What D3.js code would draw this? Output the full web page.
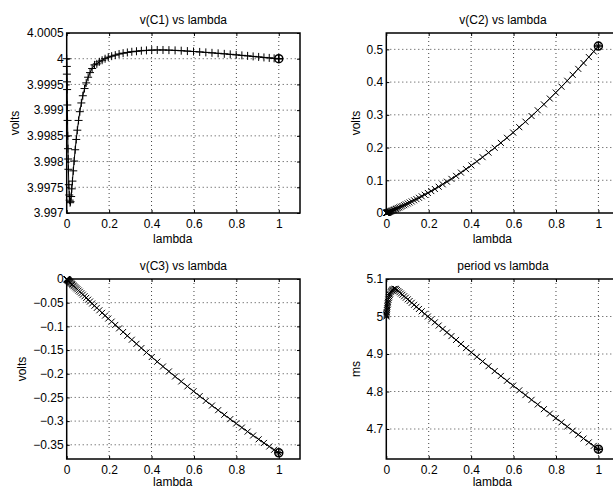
<!DOCTYPE html>
<html>
<head>
<meta charset="utf-8">
<script src="https://cdnjs.cloudflare.com/ajax/libs/d3/7.8.5/d3.min.js"></script>
<style>
body { margin: 0; background: #fff; }
svg { display: block; font-family: "Liberation Sans", Arial, sans-serif; }
</style>
</head>
<body>
<div id="fig"></div>
<script>
// continuation parameter (steps get finer near 0)
var lambda = [0, 0.0005, 0.001, 0.0015, 0.002, 0.003, 0.004, 0.005, 0.006, 0.007, 0.008, 0.010, 0.012, 0.014, 0.016, 0.018,
	0.021, 0.024, 0.027, 0.031, 0.035, 0.040, 0.045, 0.050, 0.056, 0.062, 0.069, 0.076, 0.084, 0.092, 0.101, 0.110,
	0.120, 0.131, 0.142, 0.154, 0.167, 0.181, 0.196, 0.212, 0.229, 0.247, 0.266, 0.286, 0.307, 0.329, 0.352, 0.376,
	0.401, 0.427, 0.454, 0.482, 0.511, 0.540, 0.569, 0.598, 0.627, 0.656, 0.685, 0.714, 0.743, 0.771, 0.799, 0.826,
	0.853, 0.879, 0.905, 0.930, 0.955, 0.978, 1.0];

var vC1 = [4.00000, 3.99985, 3.99970, 3.99955, 3.99940, 3.99910, 3.99880, 3.99850, 3.99825, 3.99805, 3.99785, 3.99755,
	3.99735, 3.99725, 3.99720, 3.99722, 3.99732, 3.99747, 3.99762, 3.99782, 3.99801, 3.99823, 3.99843, 3.99861,
	3.99880, 3.99897, 3.99914, 3.99928, 3.99942, 3.99953, 3.99964, 3.99973, 3.99981, 3.99988, 3.99990, 3.99994,
	3.99997, 4.00000, 4.00003, 4.00005, 4.00007, 4.000092, 4.000108, 4.000122, 4.000135, 4.000145, 4.000155, 4.000162,
	4.000167, 4.000170, 4.000170, 4.000167, 4.000162, 4.000156, 4.000148, 4.000140, 4.000132, 4.000123, 4.000114,
	4.000105, 4.000095, 4.000085, 4.000075, 4.000065, 4.000055, 4.000045, 4.000035, 4.000025, 4.000016, 4.000007, 4.00000];

var vC2 = [0, 0.00013, 0.00026, 0.0004, 0.00053, 0.0008, 0.00106, 0.00133, 0.00159, 0.00186, 0.00213, 0.00266,
	0.0032, 0.00374, 0.00429, 0.00483, 0.00565, 0.00648, 0.00731, 0.00842, 0.00954, 0.01095, 0.01238, 0.01382,
	0.01555, 0.0173, 0.01939, 0.02148, 0.02391, 0.02637, 0.02917, 0.03202, 0.03522, 0.03881, 0.04245, 0.04649,
	0.05095, 0.05584, 0.06119, 0.06702, 0.07336, 0.08022, 0.08763, 0.09563, 0.10423, 0.11348, 0.12341, 0.13404,
	0.14542, 0.15758, 0.17056, 0.1844, 0.19914, 0.21429, 0.22986, 0.24584, 0.26224, 0.27905, 0.29627, 0.3139,
	0.33196, 0.34978, 0.36798, 0.38591, 0.40418, 0.42212, 0.4404, 0.45829, 0.47648, 0.49348, 0.51];

var vC3 = [0, -0.00022, -0.00044, -0.00066, -0.00088, -0.00132, -0.00176, -0.0022, -0.00264, -0.00308, -0.00352, -0.0044,
	-0.00527, -0.00615, -0.00702, -0.0079, -0.00921, -0.01052, -0.01183, -0.01357, -0.01531, -0.01748, -0.01965, -0.02182,
	-0.02441, -0.027, -0.03001, -0.03302, -0.03645, -0.03986, -0.0437, -0.04752, -0.05175, -0.05639, -0.06101, -0.06603,
	-0.07144, -0.07725, -0.08344, -0.09, -0.09693, -0.10423, -0.11188, -0.11987, -0.1282, -0.13686, -0.14584, -0.15512,
	-0.1647, -0.17457, -0.18471, -0.19512, -0.20578, -0.21631, -0.22673, -0.23702, -0.24718, -0.25723, -0.26715, -0.27695,
	-0.28662, -0.29585, -0.30496, -0.31363, -0.3222, -0.33036, -0.33841, -0.34606, -0.35362, -0.3605, -0.367];

var period = [5.000, 5.003, 5.006, 5.009, 5.012, 5.017, 5.022, 5.027, 5.031, 5.035, 5.039, 5.045, 5.050, 5.054, 5.058,
	5.061, 5.065, 5.068, 5.070, 5.072, 5.073, 5.074, 5.0735, 5.0706, 5.0676, 5.0647, 5.0613, 5.0579, 5.054, 5.0501,
	5.0457, 5.0413, 5.0365, 5.0312, 5.0259, 5.0201, 5.0139, 5.0072, 5.0, 4.9924, 4.9844, 4.9759, 4.9669, 4.9575,
	4.9477, 4.9375, 4.9268, 4.9157, 4.9043, 4.8924, 4.8801, 4.8675, 4.8544, 4.8415, 4.8286, 4.8158, 4.8031, 4.7904,
	4.7778, 4.7653, 4.7529, 4.741, 4.7291, 4.7178, 4.7065, 4.6956, 4.6849, 4.6746, 4.6644, 4.655, 4.6461];

var xTicks = [0, 0.2, 0.4, 0.6, 0.8, 1];
var c1Ticks = [3.997, 3.9975, 3.998, 3.9985, 3.999, 3.9995, 4, 4.0005];
var c2Ticks = [0, 0.1, 0.2, 0.3, 0.4, 0.5];
var c3Ticks = [0, -0.05, -0.1, -0.15, -0.2, -0.25, -0.3, -0.35];
var periodTicks = [4.7, 4.8, 4.9, 5, 5.1];

var W = 613, H = 490;
var svg = d3.select("#fig").append("svg").attr("width", W).attr("height", H);
var FS = 12;

function fmt(v) {
	var s = String(+v.toFixed(5));
	return s.replace("-", "\u2212");
}

function drawPanel(p) {
	var g = svg.append("g");
	var x = d3.scaleLinear().domain([0, 1.1]).range([p.left, p.left + 233.3]);
	var y = d3.scaleLinear().domain(p.yDomain).range([p.bottom, p.top]);

	// dotted grid
	xTicks.forEach(function(t) {
		if (t === 0) return;
		g.append("line").attr("x1", x(t)).attr("x2", x(t)).attr("y1", p.top).attr("y2", p.bottom)
			.attr("stroke", "#444").attr("stroke-width", 1).attr("stroke-dasharray", "1,3");
	});
	p.yTicks.forEach(function(t) {
		var yy = y(t);
		if (Math.abs(yy - p.top) < 1 || Math.abs(yy - p.bottom) < 1) return;
		g.append("line").attr("x1", p.left).attr("x2", x(1.1)).attr("y1", yy).attr("y2", yy)
			.attr("stroke", "#444").attr("stroke-width", 1).attr("stroke-dasharray", "1,3");
	});

	var xAxis = g.append("g").attr("transform", "translate(0," + p.bottom + ")")
		.call(d3.axisBottom(x).tickValues(xTicks).tickFormat(fmt).tickSize(-3).tickPadding(6));
	var xAxisTop = g.append("g").attr("transform", "translate(0," + p.top + ")")
		.call(d3.axisTop(x).tickValues(xTicks).tickFormat("").tickSize(-3));
	var yAxis = g.append("g").attr("transform", "translate(" + p.left + ",0)")
		.call(d3.axisLeft(y).tickValues(p.yTicks).tickFormat(fmt).tickSize(-3).tickPadding(3));
	var yAxisR = g.append("g").attr("transform", "translate(" + x(1.1) + ",0)")
		.call(d3.axisRight(y).tickValues(p.yTicks).tickFormat("").tickSize(-3));
	[xAxis, xAxisTop, yAxis, yAxisR].forEach(function(a) {
		a.select(".domain").remove();
		a.selectAll("text").attr("font-size", FS).attr("fill", "#000").style("font-family", "Liberation Sans, Arial, sans-serif");
		a.selectAll("line").attr("stroke", "#000");
	});

	g.append("rect").attr("x", p.left).attr("y", p.top)
		.attr("width", x(1.1) - p.left).attr("height", p.bottom - p.top)
		.attr("fill", "none").attr("stroke", "#000").attr("stroke-width", 1.5);

	// curve
	var pts = lambda.map(function(l, i) { return [x(l), y(p.values[i])]; });
	g.append("path").attr("d", d3.line()(pts)).attr("fill", "none").attr("stroke", "#000").attr("stroke-width", 1);

	var m = g.append("g").attr("stroke", "#000").attr("stroke-width", 1).attr("fill", "none");
	pts.forEach(function(pt) {
		var a = p.marker === "+" ? 4 : 3;
		if (p.marker === "+") {
			m.append("path").attr("d", "M" + (pt[0] - a) + "," + pt[1] + "H" + (pt[0] + a) + "M" + pt[0] + "," + (pt[1] - a) + "V" + (pt[1] + a));
		} else {
			m.append("path").attr("d", "M" + (pt[0] - a) + "," + (pt[1] - a) + "L" + (pt[0] + a) + "," + (pt[1] + a) +
				"M" + (pt[0] - a) + "," + (pt[1] + a) + "L" + (pt[0] + a) + "," + (pt[1] - a));
		}
	});
	// end point marker
	var e = pts[pts.length - 1];
	m.append("circle").attr("cx", e[0]).attr("cy", e[1]).attr("r", 4).attr("stroke-width", 1.5);
	m.append("path").attr("d", "M" + (e[0] - 4) + "," + e[1] + "H" + (e[0] + 4) + "M" + e[0] + "," + (e[1] - 4) + "V" + (e[1] + 4))
		.attr("stroke-width", 1.5);

	// labels
	g.append("text").attr("x", (p.left + x(1.1)) / 2).attr("y", p.top - 9).attr("text-anchor", "middle")
		.attr("font-size", FS).text(p.title);
	g.append("text").attr("x", x(0.5)).attr("y", p.bottom + p.xlabOff).attr("text-anchor", "middle")
		.attr("font-size", FS).text("lambda");
	g.append("text").attr("transform", "translate(" + p.ylabX + "," + ((p.top + p.bottom) / 2) + ") rotate(-90)")
		.attr("text-anchor", "middle").attr("font-size", FS).text(p.ylabel);
}

drawPanel({ left: 66.7, top: 33, bottom: 213, yDomain: [3.997, 4.0005], yTicks: c1Ticks, values: vC1,
	marker: "+", title: "v(C1) vs lambda", ylabel: "volts", ylabX: 19, xlabOff: 30 });
drawPanel({ left: 386.3, top: 33, bottom: 213, yDomain: [0, 0.55], yTicks: c2Ticks, values: vC2,
	marker: "x", title: "v(C2) vs lambda", ylabel: "volts", ylabX: 360, xlabOff: 30 });
drawPanel({ left: 66.7, top: 279, bottom: 459, yDomain: [-0.38, 0], yTicks: c3Ticks, values: vC3,
	marker: "x", title: "v(C3) vs lambda", ylabel: "volts", ylabX: 25.5, xlabOff: 27 });
drawPanel({ left: 386.3, top: 279, bottom: 459, yDomain: [4.62, 5.1], yTicks: periodTicks, values: period,
	marker: "x", title: "period vs lambda", ylabel: "ms", ylabX: 360, xlabOff: 27 });
</script>
</body>
</html>
